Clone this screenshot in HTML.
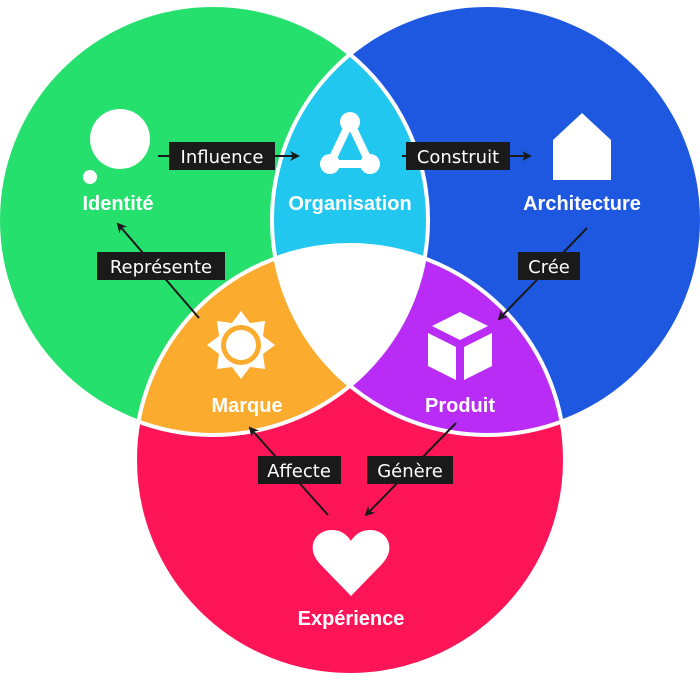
<!DOCTYPE html>
<html><head><meta charset="utf-8"><style>
html,body{margin:0;padding:0;background:#fff;width:700px;height:681px;overflow:hidden}
svg{display:block}
.t{font-family:"Liberation Sans",sans-serif;font-weight:bold;font-size:20px;fill:#fff;text-anchor:middle}
.l{font-family:"DejaVu Sans","Liberation Sans",sans-serif;font-size:18px;fill:#fff;text-anchor:middle}
</style></head><body>
<svg width="700" height="681" viewBox="0 0 700 681">
<defs>
<clipPath id="cg"><circle cx="213" cy="220" r="215"/></clipPath>
<clipPath id="cb"><circle cx="487" cy="220" r="215"/></clipPath>
<marker id="a" markerWidth="10" markerHeight="10" refX="8" refY="5" orient="auto" markerUnits="userSpaceOnUse"><path d="M0,0 L10,5 L0,10 L3,5 z" fill="#1a1a1a"/></marker>
</defs>
<circle cx="213" cy="220" r="215" fill="#26e06e"/>
<circle cx="487" cy="220" r="215" fill="#1e58e0"/>
<circle cx="350" cy="460" r="215" fill="#fe1558"/>
<g clip-path="url(#cg)"><circle cx="487" cy="220" r="215" fill="#22c7ef"/><circle cx="350" cy="460" r="215" fill="#fbab2e"/></g>
<g clip-path="url(#cb)"><circle cx="350" cy="460" r="215" fill="#b82cf5"/></g>
<g clip-path="url(#cg)"><g clip-path="url(#cb)"><circle cx="350" cy="460" r="215" fill="#fff"/></g></g>
<g fill="none" stroke="#fff" stroke-width="4">
<circle cx="213" cy="220" r="215"/><circle cx="487" cy="220" r="215"/><circle cx="350" cy="460" r="215"/>
</g>
<circle cx="120" cy="139" r="30" fill="#fff"/><circle cx="90" cy="177" r="7" fill="#fff"/>
<g fill="#fff"><circle cx="350" cy="122" r="10"/><circle cx="330" cy="164" r="10"/><circle cx="370" cy="164" r="10"/></g>
<path d="M350,122 L330,164 L370,164 Z" fill="none" stroke="#fff" stroke-width="8" stroke-linejoin="round"/>
<path d="M582,113 L611,140 L611,180 L553,180 L553,140 Z" fill="#fff"/>
<g transform="translate(241,345)">
<path d="M0,-34 L9,-22 L24,-24 L22,-9 L34,0 L22,9 L24,24 L9,22 L0,34 L-9,22 L-24,24 L-22,9 L-34,0 L-22,-9 L-24,-24 L-9,-22 Z" fill="#fff"/>
<circle r="20" fill="#fbab2e"/><circle r="15" fill="#fff"/>
</g>
<g transform="translate(460,345)" fill="#fff">
<path d="M0,-33 L28,-19 L0,-5 L-28,-19 Z"/>
<path d="M-32,-12 L-4,2 L-4,35 L-32,21 Z"/>
<path d="M32,-12 L4,2 L4,35 L32,21 Z"/>
</g>
<path d="M351,596 L320,564 C305,548 315,530 332,530 C342,530 348,536 351,541 C354,536 360,530 370,530 C387,530 397,548 382,564 Z" fill="#fff"/>
<text class="t" x="118" y="210">Identité</text>
<text class="t" x="350" y="210">Organisation</text>
<text class="t" x="582" y="210">Architecture</text>
<text class="t" x="247" y="412">Marque</text>
<text class="t" x="460" y="412">Produit</text>
<text class="t" x="351" y="625">Expérience</text>
<g stroke="#1a1a1a" stroke-width="2" fill="none" marker-end="url(#a)">
<line x1="158" y1="156" x2="298" y2="156"/>
<line x1="402" y1="156" x2="530" y2="156"/>
<line x1="199" y1="318" x2="118" y2="224"/>
<line x1="587" y1="228" x2="499" y2="319"/>
<line x1="328" y1="515" x2="250" y2="428"/>
<line x1="456" y1="423" x2="366" y2="515"/>
</g>
<g fill="#1a1a1a">
<rect x="169" y="142" width="106" height="28"/>
<rect x="406" y="142" width="104" height="28"/>
<rect x="97" y="252" width="128" height="28"/>
<rect x="518" y="252" width="62" height="28"/>
<rect x="258" y="456" width="83" height="28"/>
<rect x="367" y="456" width="86" height="28"/>
</g>
<text class="l" x="222" y="163">Influence</text>
<text class="l" x="458" y="163">Construit</text>
<text class="l" x="161" y="273">Représente</text>
<text class="l" x="549" y="273">Crée</text>
<text class="l" x="299" y="477">Affecte</text>
<text class="l" x="410" y="477">Génère</text>
</svg>
</body></html>
